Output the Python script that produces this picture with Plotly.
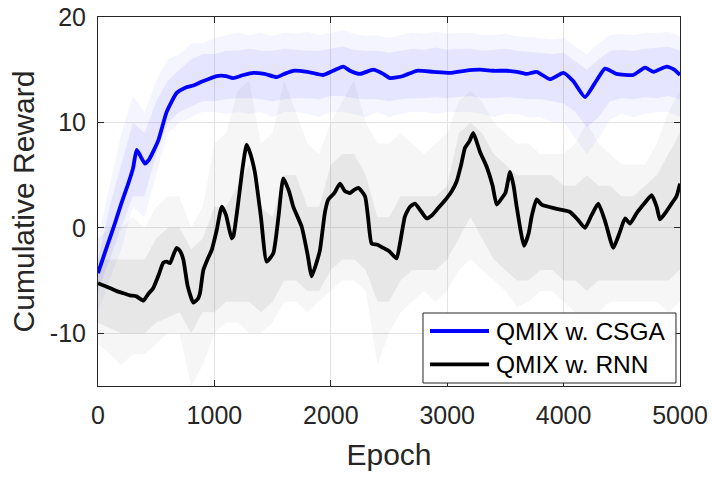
import plotly.graph_objects as go

# ---------------- data ----------------
csga_epoch = [0, 70, 146, 200, 260, 300, 332, 360, 404, 440, 518, 590, 676, 750, 819, 900,
              1020, 1100, 1160, 1250, 1333, 1430, 1535, 1600, 1677, 1800, 1935, 2020, 2108,
              2165, 2250, 2365, 2450, 2509, 2622, 2738, 2880, 3024, 3150, 3282, 3400, 3510,
              3600, 3683, 3768, 3883, 3998, 4084, 4184, 4284, 4356, 4456, 4599, 4700, 4771,
              4885, 4950, 5000]
csga_reward = [-4.3, -2.0, 0.45, 2.3, 4.2, 5.6, 7.4, 6.9, 6.1, 6.5, 8.3, 11.0, 12.8, 13.3, 13.5,
               13.9, 14.4, 14.4, 14.2, 14.5, 14.7, 14.6, 14.3, 14.6, 14.9, 14.8, 14.5, 14.9, 15.3,
               14.9, 14.6, 15.0, 14.6, 14.2, 14.4, 14.9, 14.8, 14.7, 14.9, 15.0, 14.9, 14.9,
               14.8, 14.6, 14.8, 14.1, 14.7, 13.9, 12.4, 14.0, 15.1, 14.6, 14.5, 15.2, 14.8,
               15.3, 15.0, 14.5]

rnn_epoch = [0, 80, 160, 220, 275, 330, 390, 430, 475, 520, 561, 590, 619, 650, 676, 705, 733,
             770, 819, 860, 876, 905, 940, 977, 1020, 1063, 1100, 1148, 1163, 1200, 1240, 1277,
             1310, 1349, 1400, 1449, 1506, 1550, 1592, 1640, 1678, 1750, 1800, 1836, 1880, 1907,
             1950, 1979, 2030, 2079, 2120, 2165, 2200, 2237, 2294, 2320, 2351, 2400, 2451, 2500,
             2565, 2594, 2637, 2680, 2723, 2780, 2823, 2870, 2909, 2995, 3040, 3081, 3120, 3153,
             3190, 3224, 3282, 3339, 3390, 3425, 3468, 3500, 3540, 3570, 3597, 3660, 3700, 3726,
             3768, 3811, 3940, 4055, 4120, 4184, 4240, 4298, 4360, 4427, 4480, 4528, 4570, 4628,
             4700, 4756, 4800, 4828, 4880, 4928, 4970, 5000]
rnn_reward = [-5.25, -5.6, -6.0, -6.2, -6.4, -6.5, -6.9, -6.3, -5.7, -4.5, -3.3, -3.2, -3.35,
              -2.5, -1.9, -2.2, -3.0, -5.5, -7.1, -6.7, -6.2, -4.0, -3.0, -2.1, -0.2, 2.0, 1.2,
              -1.0, -0.8, 2.0, 5.5, 7.9, 7.0, 5.2, 1.0, -3.2, -2.4, 1.0, 4.7, 3.5, 2.0, 0.1, -2.5,
              -4.6, -3.2, -2.1, 1.5, 2.7, 3.3, 4.2, 3.5, 3.3, 3.6, 3.8, 3.0, 1.0, -1.5, -1.6,
              -1.9, -2.2, -2.9, -1.5, 1.1, 2.0, 2.3, 1.5, 0.9, 1.2, 1.7, 2.8, 3.5, 4.4, 6.0, 7.6,
              8.2, 9.0, 7.2, 5.8, 4.0, 2.2, 2.8, 3.3, 5.3, 4.0, 2.0, -1.7, -0.5, 1.1, 2.7, 2.2,
              1.8, 1.5, 0.8, 0.0, 1.2, 2.3, 0.5, -1.9, -0.5, 0.9, 0.4, 1.4, 2.4, 3.1, 2.0, 0.8,
              1.5, 2.3, 3.0, 4.2]

# envelopes of the raw (unsmoothed) traces, sampled every 100 epochs
env_epoch = list(range(0, 5001, 100))
csga_raw_lo = [-6, -3, 0, 3, 3, 7, 10, 11, 11.5, 12, 12, 12.2, 12.3, 12.3, 12.2, 12, 12.2,
               12.3, 12.3, 12.2, 12.5, 12.5, 12.3, 12.2, 12.2, 12, 12.2, 12.3, 12.3, 12.4,
               12.3, 12.4, 12.5, 12.3, 12.3, 12.4, 12.3, 12.2, 12.2, 12.0, 11.8, 11.0, 9.5,
               10.5, 12.0, 12.3, 12.2, 12.4, 12.3, 12.5, 12.2]
csga_raw_hi = [-3, 2, 6, 10, 9, 12, 14, 15, 16, 16.5, 16.5, 16.8, 16.8, 17, 16.8, 16.8, 17,
               16.9, 16.8, 16.8, 17, 17.2, 16.9, 16.8, 16.8, 16.6, 16.8, 17, 16.9, 17.1, 16.9,
               17, 17, 16.8, 16.9, 17, 16.8, 16.7, 16.6, 16.5, 16.6, 15.8, 15.0, 16.0, 16.8,
               16.9, 16.8, 17, 17.1, 17.2, 16.8]
csga_out_lo = [-8, -5, -2, 2, 1, 5, 9, 10, 10.5, 11, 11, 10.8, 11, 10.8, 11, 10.5, 11, 11,
               10.8, 10.5, 11, 11, 10.8, 10.5, 11, 10.5, 10.8, 11, 11, 10.8, 11, 11, 11, 10.8,
               10.5, 10.8, 10.8, 10.5, 10.5, 10, 10, 8.5, 7.0, 8.5, 10.3, 10.8, 10.5, 10.8,
               11, 11, 10.5]
csga_out_hi = [-1, 4, 9, 12.5, 11, 14, 16, 16.5, 17.5, 17.5, 18, 18.3, 18.5, 18.3, 18.5, 18.2,
               18.5, 18.4, 18.6, 18.3, 18.5, 18.8, 18.4, 18.2, 18.3, 18, 18.3, 18.5, 18.4, 18.6,
               18.4, 18.5, 18.5, 18.3, 18.3, 18.4, 18.2, 18.1, 18.0, 17.9, 18, 17.2, 16.5, 17.5,
               18.3, 18.4, 18.3, 18.5, 18.5, 18.6, 18.2]

rnn_raw_lo = [-9, -9.5, -10, -10, -10, -9, -8.5, -8, -10, -8, -8, -7, -7, -7, -8, -7, -5, -5,
              -6, -6, -4, -3, -3, -4, -7, -7, -5, -4, -4, -4, -3, -1, 1, -1, -3, -4, -5, -5, -4,
              -4, -5, -5, -6, -5, -5, -5, -5, -5, -5, -5, -4]
rnn_raw_hi = [-3, -3, -3, -3, -3, -1, 0, 0, -2, -1, 2, 2, 4, 6, 2, 1, 5, 5, 2, 2, 6, 7, 7, 5,
              1, 1, 3, 3, 3, 3, 4, 9, 10, 9, 7, 6, 5, 5, 5, 5, 4, 4, 5, 4, 4, 3, 3, 4, 5, 7, 9]
rnn_out_lo = [-11, -12, -13, -12, -12, -11, -10, -10, -15, -13, -10, -9, -9, -10, -10, -9, -7,
              -7, -8, -7, -6, -5, -5, -6, -13, -10, -8, -7, -6, -7, -6, -4, -3, -4, -5, -6,
              -7.5, -7, -6, -6, -7, -8, -8, -8, -7, -7, -7, -7, -7, -8, -7]
rnn_out_hi = [-1, 0, 0, 1, 0, 2, 3, 3, 0, 2, 8, 9, 13, 14, 8, 9, 14, 11, 8, 7, 10, 12, 14, 10,
              8, 8, 9, 8, 7, 8, 9, 12, 13, 12, 10, 9, 8, 8, 7, 7, 7, 8, 10, 8, 7, 6, 6, 6, 8,
              11, 13]

series_names = ["QMIX w. CSGA", "QMIX w. RNN"]
x_ticks = [0, 1000, 2000, 3000, 4000, 5000]
x_tick_labels = ["0", "1000", "2000", "3000", "4000", "5000"]
y_ticks = [-10, 0, 10, 20]
y_tick_labels = ["-10", "0", "10", "20"]


def band(xs, lo, hi, color):
    return go.Scatter(x=xs + xs[::-1], y=hi + lo[::-1], fill="toself", fillcolor=color,
                      line=dict(width=0), mode="lines", hoverinfo="skip", showlegend=False)


fig = go.Figure()
fig.add_trace(band(env_epoch, csga_out_lo, csga_out_hi, "rgba(0,0,255,0.04)"))
fig.add_trace(band(env_epoch, csga_raw_lo, csga_raw_hi, "rgba(0,0,255,0.063)"))
fig.add_trace(band(env_epoch, rnn_out_lo, rnn_out_hi, "rgba(0,0,0,0.035)"))
fig.add_trace(band(env_epoch, rnn_raw_lo, rnn_raw_hi, "rgba(0,0,0,0.06)"))

fig.add_trace(go.Scatter(x=csga_epoch, y=csga_reward, mode="lines", name=series_names[0],
                         line=dict(color="#0000ff", width=3.8, shape="spline", smoothing=0.5),
                         showlegend=False))
fig.add_trace(go.Scatter(x=rnn_epoch, y=rnn_reward, mode="lines", name=series_names[1],
                         line=dict(color="#000000", width=3.8, shape="spline", smoothing=0.5),
                         showlegend=False))

font = "Liberation Sans, Arial, Helvetica, sans-serif"
axis_common = dict(showline=True, linecolor="#262626", linewidth=1, mirror="allticks",
                   ticks="inside", ticklen=6, tickcolor="#262626", showgrid=True,
                   gridcolor="#e3e3e3", gridwidth=1, zeroline=False, automargin=False,
                   ticklabeloverflow="allow",
                   tickfont=dict(family=font, size=25, color="#262626"))

fig.update_xaxes(range=[0, 5000], tickvals=x_ticks, ticktext=x_tick_labels,
                 title=dict(text="Epoch", font=dict(family=font, size=30, color="#262626"),
                            standoff=15),
                 ticklabelstandoff=7, **axis_common)
fig.update_yaxes(range=[-15, 20], tickvals=y_ticks, ticktext=y_tick_labels,
                 title=dict(text="Cumulative Reward", font=dict(family=font, size=30,
                                                               color="#262626"), standoff=6),
                 ticklabelstandoff=6, **axis_common)

# legend drawn as shapes/annotations (MATLAB style, long line samples)
lx0, lx1, ly0, ly1 = 0.5584, 0.9931, 0.0081, 0.1978
fig.add_shape(type="rect", xref="paper", yref="paper", x0=lx0, x1=lx1, y0=ly0, y1=ly1,
              line=dict(color="#262626", width=1), fillcolor="white", layer="above")
for ypos, col, name in [(0.149, "#0000ff", series_names[0]), (0.0588, "#000000", series_names[1])]:
    fig.add_shape(type="line", xref="paper", yref="paper", x0=0.5704, x1=0.6718, y0=ypos,
                  y1=ypos, line=dict(color=col, width=3.8), layer="above")
    fig.add_annotation(xref="paper", yref="paper", x=0.6804, y=ypos, text=name,
                       showarrow=False, xanchor="left", yanchor="middle",
                       font=dict(family=font, size=24.5, color="#000000"))

fig.update_layout(width=712, height=477, margin=dict(l=98, r=32, t=17, b=91),
                  plot_bgcolor="white", paper_bgcolor="white", showlegend=False)

# remove the browser's default 8px body margin so the figure fills the window exactly
fig.write_html("out.html", config={"displayModeBar": False},
               post_script="document.body.style.margin='0';document.body.style.overflow='hidden';")
